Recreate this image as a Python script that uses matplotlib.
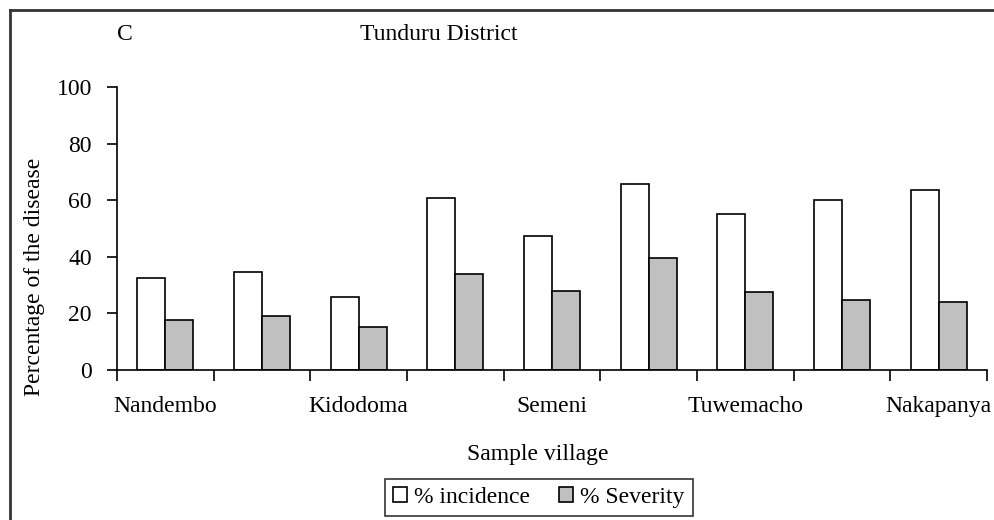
import matplotlib
matplotlib.use("Agg")
import matplotlib.pyplot as plt
import numpy as np
from matplotlib.lines import Line2D

# Data
villages = ["Nandembo", "", "Kidodoma", "", "Semeni", "", "Tuwemacho", "", "Nakapanya"]
incidence = [32.4, 34.5, 25.9, 60.7, 47.3, 65.6, 55.0, 60.1, 63.6]
severity = [17.7, 19.0, 15.3, 33.8, 28.0, 39.5, 27.4, 24.6, 23.9]
yticks = [0, 20, 40, 60, 80, 100]

plt.rcParams['font.family'] = ['Liberation Serif', 'DejaVu Serif']
FS = 17

fig = plt.figure(figsize=(9.94, 5.2), dpi=100)
ax = fig.add_axes([0.1177, 0.2885, 0.993 - 0.1177, 0.8327 - 0.2885])

x = np.arange(len(villages))
w = 0.29
ax.bar(x - w / 2, incidence, width=w, color='white', edgecolor='black', linewidth=1.2,
       label='% incidence')
ax.bar(x + w / 2, severity, width=w, color='#C0C0C0', edgecolor='black', linewidth=1.2,
       label='% Severity')

ax.set_xlim(-0.5, len(villages) - 0.5)
ax.set_ylim(0, 100)
ax.set_yticks(yticks)
ax.set_yticklabels([str(v) for v in yticks], fontsize=FS)

# ticks at category boundaries, labels at centers
ax.set_xticks(np.arange(-0.5, len(villages), 1.0))
ax.set_xticklabels([])
ax.set_xticks(x, minor=True)
ax.set_xticklabels(villages, minor=True, fontsize=FS)
ax.tick_params(axis='x', which='major', direction='out', length=8, width=1.2)
ax.tick_params(axis='x', which='minor', length=0, pad=19)
ax.tick_params(axis='y', direction='out', length=7, width=1.2, pad=11)

for s in ['top', 'right']:
    ax.spines[s].set_visible(False)
for s in ['left', 'bottom']:
    ax.spines[s].set_linewidth(1.2)

ax.set_ylabel('Percentage of the disease', fontsize=FS)
ax.yaxis.set_label_coords(-0.083, 0.329)
ax.set_xlabel('Sample village', fontsize=FS)
ax.xaxis.set_label_coords(0.484, -0.262)

fig.text(0.126, 0.933, 'C', fontsize=FS, ha='center', va='center')
fig.text(0.4417, 0.933, 'Tunduru District', fontsize=FS, ha='center', va='center')

leg = fig.legend(loc='center', bbox_to_anchor=(0.542, 0.0433), ncol=2, fontsize=FS,
                 frameon=True, fancybox=False, edgecolor='black', handlelength=0.6,
                 handleheight=0.6, handletextpad=0.3, columnspacing=1.2,
                 borderpad=0.35)
leg.get_frame().set_linewidth(1.2)

# outer frame (left and top edges)
fig.add_artist(Line2D([0.0105, 0.0105], [0.0, 0.980], transform=fig.transFigure,
                      color='#333333', linewidth=2))
fig.add_artist(Line2D([0.0105, 1.0], [0.980, 0.980], transform=fig.transFigure,
                      color='#333333', linewidth=2))

fig.savefig('out.png', dpi=100)
